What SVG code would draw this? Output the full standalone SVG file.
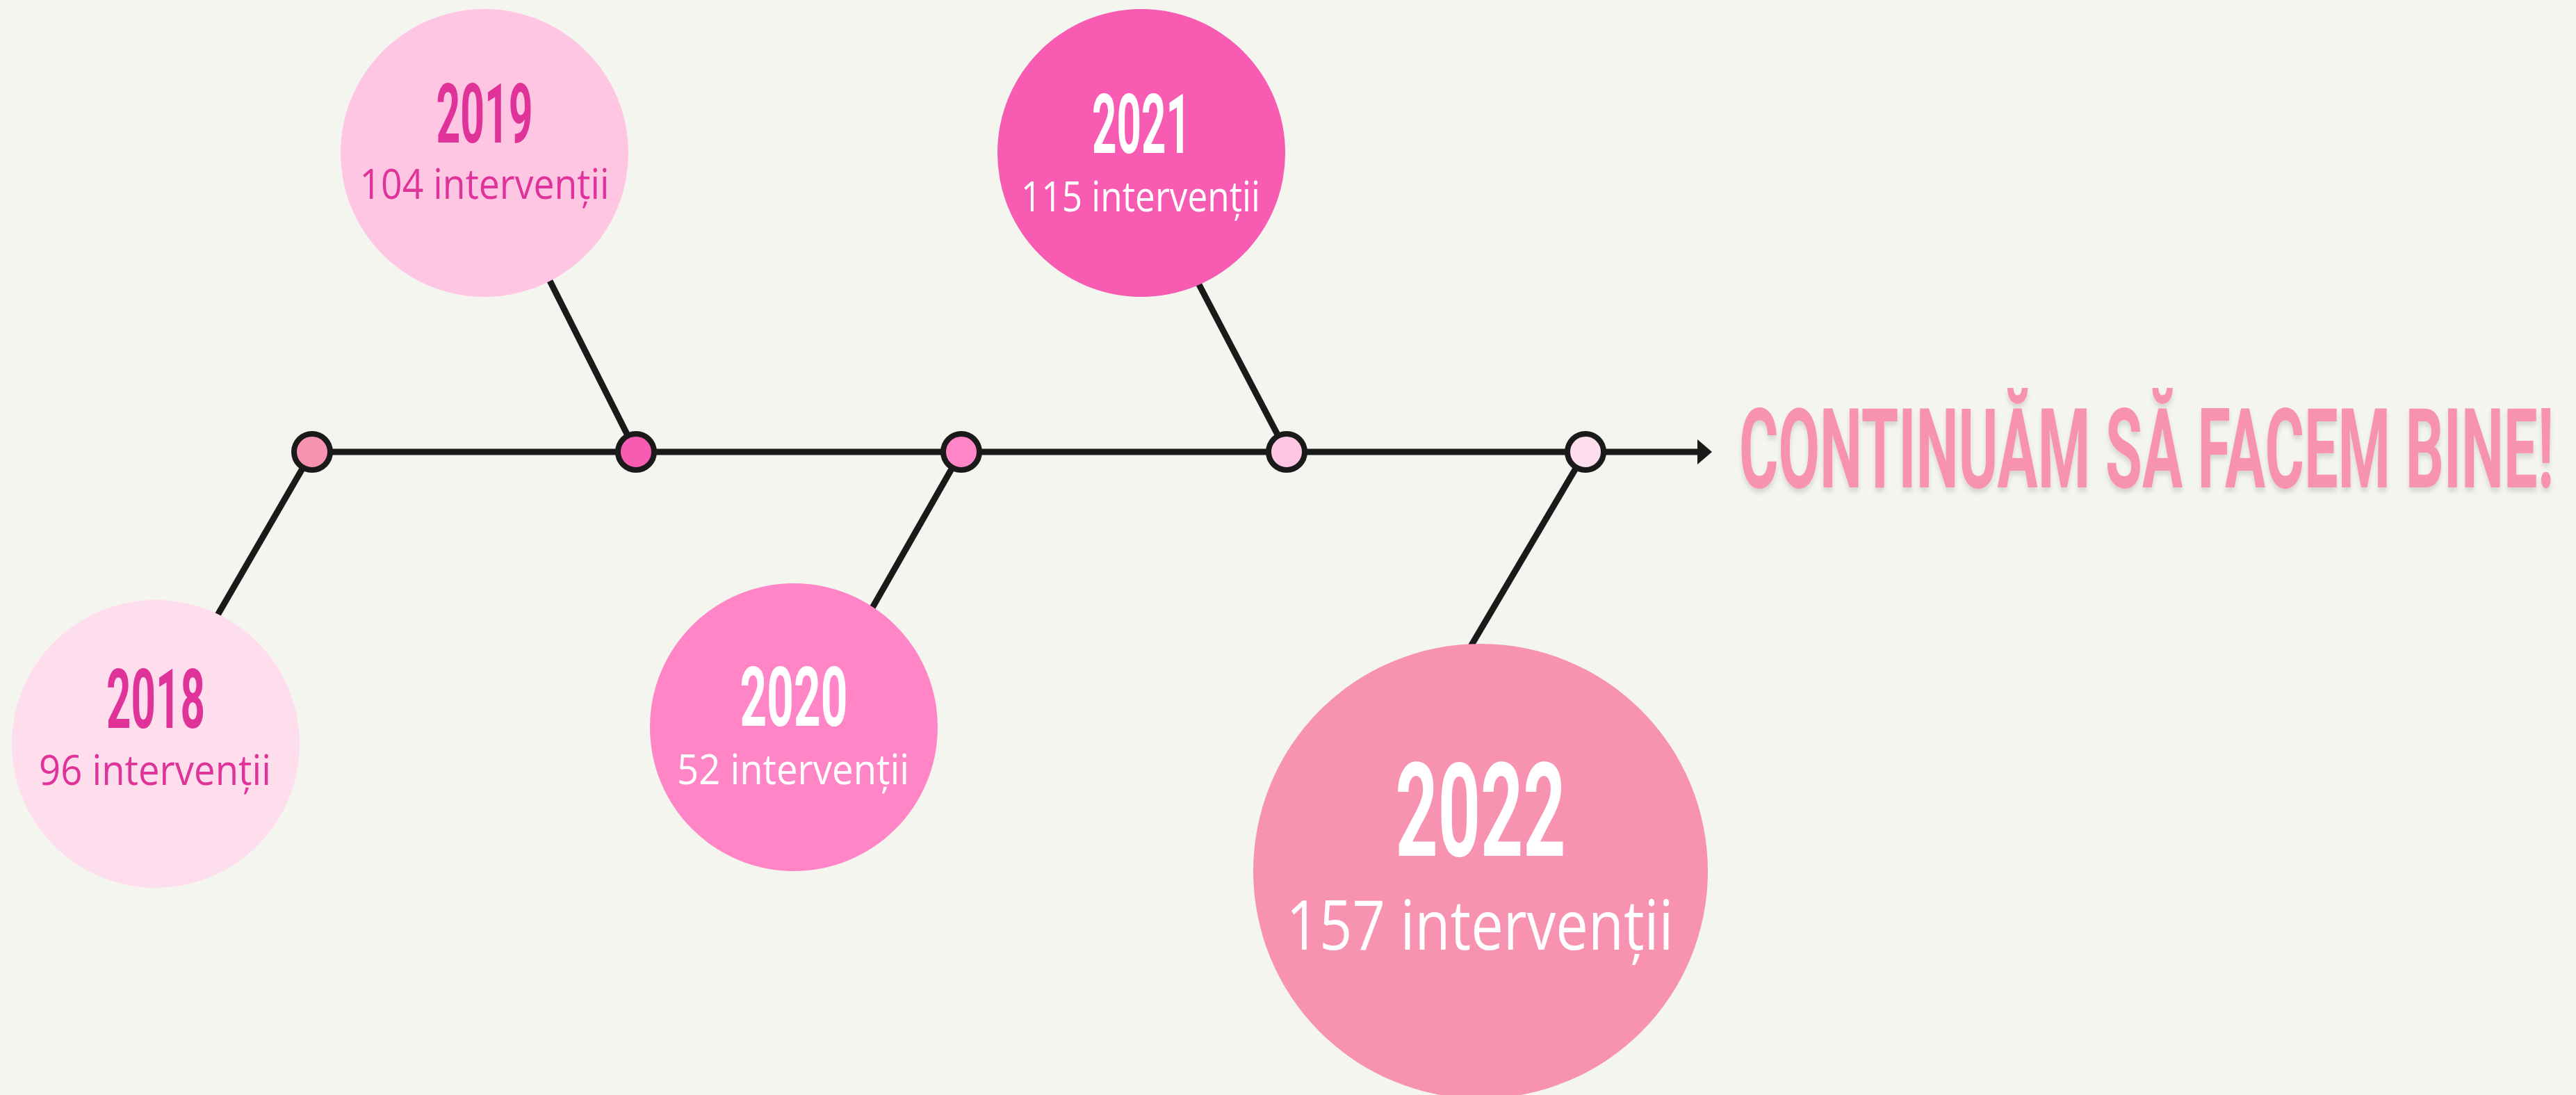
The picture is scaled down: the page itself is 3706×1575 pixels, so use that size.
<svg xmlns="http://www.w3.org/2000/svg" width="3706" height="1575" viewBox="0 0 3706 1575">
<defs>
<style>
.bg{fill:#f4f5ef}
.conn{stroke:#1a1a1a;stroke-width:9;fill:none}
.dot{stroke:#1a1a1a;stroke-width:8}
.year{font-family:Roboto,"Liberation Sans",sans-serif;font-weight:700;text-anchor:middle}
.cnt{font-family:"Open Sans","Noto Sans",sans-serif;font-weight:400;text-anchor:middle}
.mag{fill:#e0339a}
.wht{fill:#ffffff}
.title{font-family:Roboto,"Liberation Sans",sans-serif;font-weight:700;fill:#f792b0}
</style>
<filter id="sh" x="-5%" y="-20%" width="110%" height="150%">
<feDropShadow dx="0" dy="6" stdDeviation="3" flood-color="#000" flood-opacity="0.12"/>
</filter>
</defs>
<rect class="bg" x="0" y="0" width="3706" height="1575"/>

<g id="connectors">
<line class="conn" x1="449" y1="650" x2="2446" y2="650"/>
<polygon points="2442,632 2463,650 2442,668" fill="#1a1a1a"/>
<line class="conn" x1="449" y1="650" x2="303" y2="902"/>
<line class="conn" x1="915" y1="650" x2="782" y2="386"/>
<line class="conn" x1="1383" y1="650" x2="1246" y2="890"/>
<line class="conn" x1="1851" y1="650" x2="1717" y2="394"/>
<line class="conn" x1="2281" y1="650" x2="2108" y2="943"/>
</g>

<g id="dots">
<circle class="dot" cx="449" cy="650" r="26" fill="#f792b0"/>
<circle class="dot" cx="915" cy="650" r="26" fill="#f75bb2"/>
<circle class="dot" cx="1383" cy="650" r="26" fill="#ff85c6"/>
<circle class="dot" cx="1851" cy="650" r="26" fill="#ffc6e3"/>
<circle class="dot" cx="2281" cy="650" r="26" fill="#fedded"/>
</g>

<g id="node-2018">
<circle cx="224" cy="1070" r="207" fill="#fedded"/>
<text class="year mag" x="224" y="1047" font-size="119" textLength="142" lengthAdjust="spacingAndGlyphs">2018</text>
<text class="cnt mag" x="223" y="1129" font-size="61" textLength="334" lengthAdjust="spacingAndGlyphs">96 intervenții</text>
</g>

<g id="node-2019">
<circle cx="697" cy="220" r="207" fill="#ffc6e3"/>
<text class="year mag" x="697" y="205" font-size="118" textLength="139" lengthAdjust="spacingAndGlyphs">2019</text>
<text class="cnt mag" x="697" y="286" font-size="60" textLength="359" lengthAdjust="spacingAndGlyphs">104 intervenții</text>
</g>

<g id="node-2020">
<circle cx="1142" cy="1046" r="207" fill="#ff85c6"/>
<text class="year wht" x="1142" y="1044" font-size="119" textLength="155" lengthAdjust="spacingAndGlyphs">2020</text>
<text class="cnt wht" x="1141" y="1128" font-size="61" textLength="334" lengthAdjust="spacingAndGlyphs">52 intervenții</text>
</g>

<g id="node-2021">
<circle cx="1642" cy="220" r="207" fill="#f75bb2"/>
<text class="year wht" x="1642" y="220" font-size="118" textLength="142" lengthAdjust="spacingAndGlyphs">2021</text>
<text class="cnt wht" x="1641" y="304" font-size="61" textLength="344" lengthAdjust="spacingAndGlyphs">115 intervenții</text>
</g>

<g id="node-2022">
<circle cx="2130" cy="1253" r="327" fill="#f792b0"/>
<text class="year wht" x="2130" y="1231" font-size="187" textLength="245" lengthAdjust="spacingAndGlyphs">2022</text>
<text class="cnt wht" x="2129" y="1366" font-size="99" textLength="557" lengthAdjust="spacingAndGlyphs">157 intervenții</text>
</g>

<g id="title">
<text class="title" x="2502" y="701" font-size="160" textLength="1172" lengthAdjust="spacingAndGlyphs" filter="url(#sh)">CONTINUĂM SĂ FACEM BINE!</text>
</g>
</svg>
